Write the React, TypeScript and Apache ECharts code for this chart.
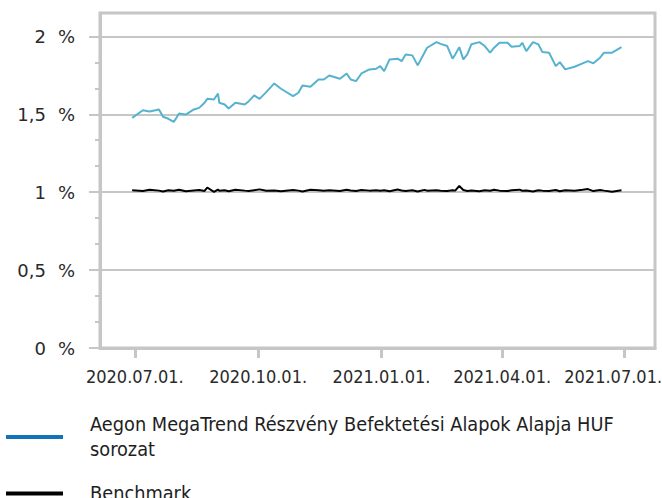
import React, { useEffect, useRef } from "react";
import * as echarts from "echarts";

const dates = [
  "2020-06-29", "2020-07-07", "2020-07-12", "2020-07-19", "2020-07-22", "2020-07-26", "2020-07-30",
  "2020-08-03", "2020-08-08", "2020-08-14", "2020-08-18", "2020-08-22", "2020-08-24", "2020-08-29",
  "2020-09-01", "2020-09-02", "2020-09-06", "2020-09-09", "2020-09-14", "2020-09-21", "2020-09-24",
  "2020-09-28", "2020-10-02", "2020-10-07", "2020-10-13", "2020-10-18", "2020-10-27", "2020-10-31",
  "2020-11-03", "2020-11-09", "2020-11-15", "2020-11-19", "2020-11-23", "2020-12-01", "2020-12-06",
  "2020-12-09", "2020-12-13", "2020-12-17", "2020-12-23", "2020-12-28", "2020-12-31", "2021-01-03",
  "2021-01-07", "2021-01-13", "2021-01-16", "2021-01-19", "2021-01-24", "2021-01-28", "2021-02-02",
  "2021-02-04", "2021-02-11", "2021-02-14", "2021-02-19", "2021-02-23", "2021-02-25", "2021-02-28",
  "2021-03-03", "2021-03-06", "2021-03-09", "2021-03-15", "2021-03-19", "2021-03-23", "2021-03-26",
  "2021-03-30", "2021-04-05", "2021-04-08", "2021-04-14", "2021-04-16", "2021-04-19", "2021-04-24",
  "2021-04-28", "2021-05-01", "2021-05-06", "2021-05-11", "2021-05-14", "2021-05-18", "2021-05-25",
  "2021-05-31", "2021-06-04", "2021-06-08", "2021-06-13", "2021-06-16", "2021-06-22", "2021-06-29",
];

const fundValues = [
  1.477, 1.526, 1.518, 1.531, 1.484, 1.471, 1.451,
  1.505, 1.498, 1.531, 1.541, 1.574, 1.599, 1.595,
  1.633, 1.574, 1.563, 1.537, 1.574, 1.563, 1.584,
  1.621, 1.599, 1.642, 1.698, 1.664, 1.616, 1.638,
  1.685, 1.676, 1.723, 1.723, 1.749, 1.728, 1.762,
  1.723, 1.713, 1.762, 1.788, 1.792, 1.809, 1.777,
  1.852, 1.857, 1.841, 1.884, 1.878, 1.814, 1.895,
  1.927, 1.963, 1.952, 1.938, 1.857, 1.884, 1.931,
  1.852, 1.884, 1.949, 1.963, 1.938, 1.895, 1.927,
  1.959, 1.959, 1.933, 1.938, 1.959, 1.905, 1.963,
  1.949, 1.899, 1.895, 1.809, 1.835, 1.788, 1.805,
  1.827, 1.841, 1.827, 1.863, 1.895, 1.895, 1.931,
];

const benchmarkValues = [
  1.012, 1.008, 1.015, 1.010, 1.004, 1.013, 1.009,
  1.016, 1.006, 1.011, 1.014, 1.008, 1.030, 1.002,
  1.017, 1.009, 1.012, 1.006, 1.015, 1.010, 1.008,
  1.013, 1.018, 1.009, 1.011, 1.006, 1.014, 1.010,
  1.004, 1.016, 1.012, 1.009, 1.013, 1.007, 1.015,
  1.011, 1.008, 1.014, 1.010, 1.012, 1.009, 1.013,
  1.006, 1.017, 1.011, 1.008, 1.012, 1.004, 1.015,
  1.010, 1.013, 1.009, 1.007, 1.012, 1.010, 1.040,
  1.014, 1.008, 1.011, 1.006, 1.013, 1.009, 1.015,
  1.010, 1.007, 1.012, 1.016, 1.009, 1.011, 1.005,
  1.013, 1.010, 1.008, 1.014, 1.006, 1.012, 1.009,
  1.015, 1.020, 1.007, 1.014, 1.010, 1.003, 1.012,
];

const yTicks = [0, 0.5, 1, 1.5, 2];
const xTickDates = ["2020-07-01", "2020-10-01", "2021-01-01", "2021-04-01", "2021-07-01"];
const xRange = ["2020-06-05", "2021-07-24"];
const fundName = "Aegon MegaTrend Részvény Befektetési Alapok Alapja HUF sorozat";
const benchName = "Benchmark";

function ts(s: string): number {
  const [y, m, d] = s.split("-").map(Number);
  return new Date(y, m - 1, d).getTime();
}
function pad(n: number): string {
  return n < 10 ? "0" + n : String(n);
}

export default function App() {
  const ref = useRef<HTMLDivElement>(null);

  useEffect(() => {
    if (!ref.current) return;
    const chart = echarts.init(ref.current, null, { renderer: "svg" });

    const minorTicks: number[] = [];
    for (let i = 0; i < yTicks.length - 1; i++) {
      const step = (yTicks[i + 1] - yTicks[i]) / 3;
      minorTicks.push(yTicks[i] + step, yTicks[i] + 2 * step);
    }

    const gray = "#c6c6c6";
    const xTickValues = xTickDates.map(ts);
    const lastTick = xTickValues[xTickValues.length - 1];
    const xFont = {
      fontFamily: "'DejaVu Sans Condensed', 'DejaVu Sans', sans-serif",
      fontSize: 18,
      color: "#2a2a2a",
    };

    chart.setOption({
      animation: false,
      backgroundColor: "#ffffff",
      grid: {
        left: 100,
        right: 7,
        top: 13,
        bottom: 150,
        show: true,
        borderColor: gray,
        borderWidth: 3,
        containLabel: false,
        outerBoundsMode: "none",
      },
      legend: {
        orient: "vertical",
        left: 6,
        top: 412,
        padding: 0,
        icon: "rect",
        itemWidth: 57,
        itemHeight: 4,
        itemGap: 19,
        selectedMode: false,
        data: [
          { name: fundName, itemStyle: { color: "#1273ba" } },
          { name: benchName, itemStyle: { color: "#000000" } },
        ],
        formatter: (n: string) => n.replace(" sorozat", "\nsorozat"),
        textStyle: {
          fontFamily: "'DejaVu Sans Condensed', 'DejaVu Sans', sans-serif",
          fontSize: 19.75,
          lineHeight: 25,
          color: "#1e1e1e",
          padding: [0, 0, 0, 22],
        },
      },
      xAxis: {
        type: "value",
        min: ts(xRange[0]),
        max: ts(xRange[1]),
        axisLine: { show: true, lineStyle: { color: gray, width: 3 } },
        axisTick: {
          show: true,
          customValues: xTickValues,
          length: 10,
          lineStyle: { color: gray, width: 3 },
        },
        splitLine: { show: false },
        axisLabel: {
          customValues: xTickValues,
          margin: 19,
          ...xFont,
          formatter: (v: number) => {
            const d = new Date(v);
            const s = `${d.getFullYear()}.${pad(d.getMonth() + 1)}.${pad(d.getDate())}.`;
            return v === lastTick ? `{last|${s}}` : `{t|${s}}`;
          },
          rich: {
            t: { ...xFont },
            last: { ...xFont, padding: [0, 22, 0, 0] },
          },
        },
      },
      yAxis: [
        {
          type: "value",
          min: 0,
          max: 2.15,
          interval: 0.5,
          axisLine: { show: true, lineStyle: { color: gray, width: 3 } },
          axisTick: {
            show: true,
            customValues: yTicks,
            length: 11,
            lineStyle: { color: gray, width: 2 },
          },
          splitLine: { show: true, lineStyle: { color: gray, width: 2 } },
          axisLabel: {
            customValues: yTicks,
            margin: 25,
            formatter: (v: number) => `{n|${String(v).replace(".", ",")}}{p|%}`,
            rich: {
              n: {
                fontFamily: "'DejaVu Sans', sans-serif",
                fontSize: 18,
                color: "#2a2a2a",
              },
              p: {
                fontFamily: "'DejaVu Sans', sans-serif",
                fontSize: 18,
                color: "#2a2a2a",
                padding: [0, 0, 0, 12],
              },
            },
          },
        },
        {
          type: "value",
          min: 0,
          max: 2.15,
          position: "left",
          axisLine: { show: false },
          axisLabel: { show: false },
          splitLine: { show: false },
          axisTick: {
            show: true,
            customValues: minorTicks,
            length: 5,
            lineStyle: { color: gray, width: 2 },
          },
        },
      ],
      series: [
        {
          name: fundName,
          type: "line",
          xAxisIndex: 0,
          yAxisIndex: 0,
          symbol: "none",
          data: dates.map((d, i) => [ts(d), fundValues[i]]),
          lineStyle: { color: "#56b3cf", width: 2 },
          itemStyle: { color: "#56b3cf" },
        },
        {
          name: benchName,
          type: "line",
          xAxisIndex: 0,
          yAxisIndex: 0,
          symbol: "none",
          data: dates.map((d, i) => [ts(d), benchmarkValues[i]]),
          lineStyle: { color: "#000000", width: 2 },
          itemStyle: { color: "#000000" },
        },
      ],
    });

    return () => chart.dispose();
  }, []);

  return (
    <div
      ref={ref}
      style={{ position: "fixed", left: 0, top: 0, width: 662, height: 498, background: "#fff" }}
    />
  );
}
